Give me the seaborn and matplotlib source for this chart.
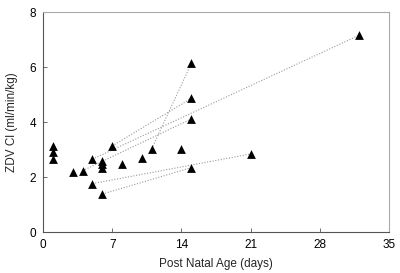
import numpy as np
import pandas as pd
import seaborn as sns
from matplotlib import pyplot as plt

# all measurements (post natal age in days, ZDV clearance)
age = [1, 1, 1, 3, 4, 5, 5, 6, 6, 6, 6, 7, 8, 10, 11, 14, 15, 15, 15, 15, 21, 32]
clearance = [3.13, 2.9, 2.67, 2.19, 2.23, 2.65, 1.76, 2.57, 2.46, 2.32, 1.38,
             3.13, 2.48, 2.68, 3.03, 3.02, 6.13, 4.86, 4.11, 2.34, 2.84, 7.16]

# repeated measurements in the same infant (connected by dotted lines)
pair_id = [1, 1, 2, 2, 3, 3, 4, 4, 5, 5, 6, 6]
pair_age = [5, 32, 7, 15, 4, 15, 11, 15, 5, 21, 6, 15]
pair_cl = [2.65, 7.16, 3.13, 4.86, 2.23, 4.11, 3.03, 6.13, 1.76, 2.84, 1.38, 2.34]

pts = pd.DataFrame({"age": age, "cl": clearance})
pairs = pd.DataFrame({"id": pair_id, "age": pair_age, "cl": pair_cl})

sns.set_style("ticks")
plt.rcParams["font.family"] = ["Liberation Sans", "DejaVu Sans"]

fig = plt.figure(figsize=(4.0, 2.73), dpi=100)
ax = fig.add_axes([0.1075, 0.150, 0.865, 0.806])

sns.lineplot(data=pairs, x="age", y="cl", units="id", estimator=None,
             color="#999999", linestyle=(0, (1, 1.5)), lw=0.8, ax=ax, legend=False)
sns.scatterplot(data=pts, x="age", y="cl", marker="^", s=40, color="black",
                edgecolor="black", linewidth=0, ax=ax, zorder=3)

ax.set_xlim(0, 35)
ax.set_ylim(0, 8)
ax.set_xticks(np.arange(0, 36, 7))
ax.set_yticks(np.arange(0, 9, 2))
ax.tick_params(direction="in", length=3, width=0.6, labelsize=8.5, colors="#555555",
               labelcolor="black", pad=5)
ax.set_xlabel("Post Natal Age (days)", fontsize=8.5, labelpad=5)
ax.set_ylabel("ZDV Cl (ml/min/kg)", fontsize=8.5, labelpad=8)
for side in ["left", "bottom"]:
    ax.spines[side].set_color("#555555")
    ax.spines[side].set_linewidth(0.8)
for side in ["top", "right"]:
    ax.spines[side].set_color("#aaaaaa")
    ax.spines[side].set_linewidth(0.8)

plt.savefig("out.png", dpi=100)
plt.close()
